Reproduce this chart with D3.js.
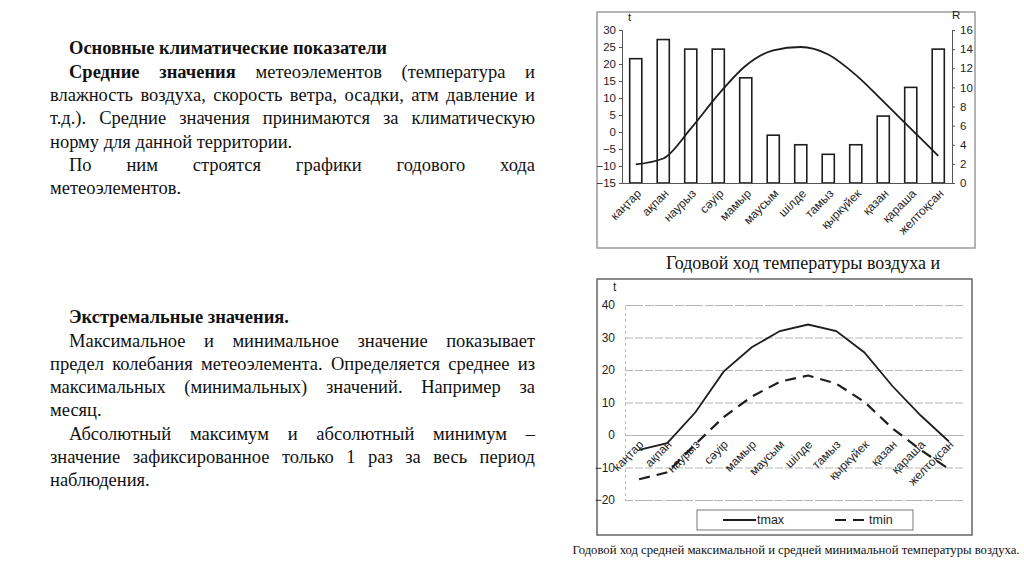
<!DOCTYPE html>
<html>
<head>
<meta charset="utf-8">
<script src="https://cdn.jsdelivr.net/npm/d3@7"></script>
<style>
  body { margin: 0; background: #fff; }
  svg { display: block; }
</style>
</head>
<body>
<div id="wrapper"></div>
<script>
// months (kazakh)
const months = ["каңтар", "ақпан", "наурыз", "сәуір", "мамыр", "маусым",
    "шілде", "тамыз", "қыркүйек", "қазан", "қараша", "желтоқсан"];

// chart 1: precipitation bars (R) and temperature line (t)
const precip = [13, 15, 14, 14, 11, 5, 4, 3, 4, 7, 10, 14];
const temp = [-9.5, -7.8, 1, 11, 19.5, 24, 25, 22.8, 16.8, 9, 1, -7];
const tTicks = [-15, -10, -5, 0, 5, 10, 15, 20, 25, 30];
const rTicks = [0, 2, 4, 6, 8, 10, 12, 14, 16];

// chart 2: mean max / mean min temperature
const tmax = [-4.6, -2.5, 7, 19.5, 27, 32, 34, 32, 25.4, 15, 6, -2];
const tmin = [-13.6, -11.5, -2.8, 5.5, 11.8, 16.4, 18.3, 15.8, 10.2, 2, -4.6, -10.5];
const t2Ticks = [-20, -10, 0, 10, 20, 30, 40];

const width = 1024, height = 576;
const ink = "#1e1e1e";

const svg = d3.select("#wrapper").append("svg")
    .attr("width", width)
    .attr("height", height);

// ---------- left text ----------
const textLines = [
    {text: "Основные климатические показатели", x: 69, y: 54, bold: 3, justify: false},
    {text: "Средние значения метеоэлементов (температура и", x: 69, y: 78, bold: 2, justify: true},
    {text: "влажность воздуха, скорость ветра, осадки, атм давление и", x: 50, y: 101, bold: 0, justify: true},
    {text: "т.д.). Средние значения принимаются за климатическую", x: 50, y: 124, bold: 0, justify: true},
    {text: "норму для данной территории.", x: 50, y: 148, bold: 0, justify: false},
    {text: "По ним строятся графики годового хода", x: 69, y: 171, bold: 0, justify: true},
    {text: "метеоэлементов.", x: 50, y: 194, bold: 0, justify: false},
    {text: "Экстремальные значения.", x: 69, y: 323, bold: 2, justify: false},
    {text: "Максимальное и минимальное значение показывает", x: 69, y: 347, bold: 0, justify: true},
    {text: "предел колебания метеоэлемента. Определяется среднее из", x: 50, y: 370, bold: 0, justify: true},
    {text: "максимальных (минимальных) значений. Например за", x: 50, y: 393, bold: 0, justify: true},
    {text: "месяц.", x: 50, y: 416, bold: 0, justify: false},
    {text: "Абсолютный максимум и абсолютный минимум –", x: 69, y: 440, bold: 0, justify: true},
    {text: "значение зафиксированное только 1 раз за весь период", x: 50, y: 463, bold: 0, justify: true},
    {text: "наблюдения.", x: 50, y: 486, bold: 0, justify: false},
];
const textRight = 535;

const textG = svg.append("g")
    .attr("font-family", "'Liberation Serif', 'Times New Roman', serif")
    .attr("font-size", "18.5px")
    .attr("fill", "#111");

textLines.forEach(line => {
    const words = line.text.split(" ");
    const nodes = words.map((w, i) => textG.append("text")
        .attr("y", line.y)
        .attr("font-weight", i < line.bold ? "bold" : "normal")
        .text(w));
    const widths = nodes.map(n => n.node().getComputedTextLength());
    const space = textG.append("text").text("\u00a0");
    let gap = space.node().getComputedTextLength();
    space.remove();
    if (line.justify && words.length > 1) {
        gap = (textRight - line.x - d3.sum(widths)) / (words.length - 1);
    }
    let x = line.x;
    nodes.forEach((n, i) => {
        n.attr("x", x);
        x += widths[i] + gap;
    });
});

// ---------- chart 1 ----------
const c1 = svg.append("g").attr("font-family", "'Liberation Sans', Arial, sans-serif");

c1.append("rect")
    .attr("x", 597).attr("y", 12)
    .attr("width", 378).attr("height", 236)
    .attr("fill", "none").attr("stroke", "#9a9a9a").attr("stroke-width", 1.5);

const x1 = d3.scaleBand().domain(months).range([622, 952]);
const yT = d3.scaleLinear().domain([-15, 30]).range([183, 30]);
const yR = d3.scaleLinear().domain([0, 16]).range([183, 30]);

const barW = x1.bandwidth() * 0.44;
c1.append("g").selectAll("rect")
    .data(months)
    .join("rect")
    .attr("x", d => x1(d) + (x1.bandwidth() - barW) / 2)
    .attr("y", (d, i) => yR(precip[i]))
    .attr("width", barW)
    .attr("height", (d, i) => yR(0) - yR(precip[i]))
    .attr("fill", "#fff")
    .attr("stroke", ink)
    .attr("stroke-width", 1.6);

const line1 = d3.line()
    .x((d, i) => x1(months[i]) + x1.bandwidth() / 2)
    .y(d => yT(d))
    .curve(d3.curveMonotoneX);

c1.append("path")
    .datum(temp)
    .attr("d", line1)
    .attr("fill", "none")
    .attr("stroke", ink)
    .attr("stroke-width", 1.8);

const yTAxis = c1.append("g")
    .attr("transform", "translate(622,0)")
    .call(d3.axisLeft(yT).tickValues(tTicks).tickSize(3).tickPadding(3));
const yRAxis = c1.append("g")
    .attr("transform", "translate(952,0)")
    .call(d3.axisRight(yR).tickValues(rTicks).tickSize(3).tickPadding(5));
const x1Axis = c1.append("g")
    .attr("transform", "translate(0,183)")
    .call(d3.axisBottom(x1).tickSize(0).tickPadding(8));

[yTAxis, yRAxis, x1Axis].forEach(a => {
    a.selectAll("path, line").attr("stroke", "#555");
    a.selectAll("text").attr("font-size", "11.5px").attr("fill", ink);
});
x1Axis.selectAll("text")
    .attr("text-anchor", "end")
    .attr("dy", "0.3em")
    .attr("transform", "translate(-2,3) rotate(-45)")
    .attr("font-size", "12px");

c1.append("text").attr("x", 628).attr("y", 21).attr("font-size", "11.5px").attr("fill", ink).text("t");
c1.append("text").attr("x", 952).attr("y", 19).attr("font-size", "11.5px").attr("fill", ink).text("R");

// caption 1
svg.append("text")
    .attr("x", 803).attr("y", 269)
    .attr("text-anchor", "middle")
    .attr("font-family", "'Liberation Serif', 'Times New Roman', serif")
    .attr("font-size", "18px")
    .attr("fill", "#111")
    .text("Годовой ход температуры воздуха и");

// ---------- chart 2 ----------
const c2 = svg.append("g").attr("font-family", "'Liberation Sans', Arial, sans-serif");

c2.append("rect")
    .attr("x", 597).attr("y", 279)
    .attr("width", 375).attr("height", 256)
    .attr("fill", "none").attr("stroke", "#666").attr("stroke-width", 1.5);

const x2 = d3.scaleBand().domain(months).range([625, 963]);
const y2 = d3.scaleLinear().domain([-20, 40]).range([500, 305]);

const y2Axis = c2.append("g")
    .attr("transform", "translate(625,0)")
    .call(d3.axisLeft(y2).tickValues(t2Ticks).tickSize(-(963 - 625)).tickPadding(10));
y2Axis.select(".domain").attr("stroke", "#bbb").attr("stroke-dasharray", "3 3");
y2Axis.selectAll("line").attr("stroke", "#b5b5b5").attr("stroke-dasharray", "8 2");
y2Axis.selectAll("text").attr("font-size", "12px").attr("fill", ink);

const x2Axis = c2.append("g")
    .attr("transform", `translate(0,${y2(0)})`)
    .call(d3.axisBottom(x2).tickSize(0).tickPadding(8));
x2Axis.select(".domain").attr("stroke", "#b5b5b5");
x2Axis.selectAll("text")
    .attr("text-anchor", "end")
    .attr("dy", "0.3em")
    .attr("transform", "translate(-3,2) rotate(-45)")
    .attr("font-size", "12px")
    .attr("fill", ink);

const line2 = d3.line()
    .x((d, i) => x2(months[i]) + x2.bandwidth() / 2)
    .y(d => y2(d));

c2.append("path")
    .datum(tmax)
    .attr("d", line2)
    .attr("fill", "none")
    .attr("stroke", ink)
    .attr("stroke-width", 1.8);

c2.append("path")
    .datum(tmin)
    .attr("d", line2)
    .attr("fill", "none")
    .attr("stroke", ink)
    .attr("stroke-width", 2.2)
    .attr("stroke-dasharray", "11 7");

c2.append("text").attr("x", 613).attr("y", 291).attr("font-size", "12px").attr("fill", ink).text("t");

// legend
const leg = c2.append("g");
leg.append("rect")
    .attr("x", 697).attr("y", 510)
    .attr("width", 216).attr("height", 20)
    .attr("fill", "#fff").attr("stroke", "#777");
leg.append("line")
    .attr("x1", 723).attr("x2", 756).attr("y1", 520).attr("y2", 520)
    .attr("stroke", ink).attr("stroke-width", 1.8);
leg.append("text").attr("x", 757).attr("y", 524).attr("font-size", "12.5px").attr("fill", ink).text("tmax");
leg.append("line")
    .attr("x1", 835).attr("x2", 868).attr("y1", 520).attr("y2", 520)
    .attr("stroke", ink).attr("stroke-width", 2.2).attr("stroke-dasharray", "11 7");
leg.append("text").attr("x", 869).attr("y", 524).attr("font-size", "12.5px").attr("fill", ink).text("tmin");

// caption 2
svg.append("text")
    .attr("x", 796).attr("y", 554)
    .attr("text-anchor", "middle")
    .attr("font-family", "'Liberation Serif', 'Times New Roman', serif")
    .attr("font-size", "12.7px")
    .attr("fill", "#111")
    .text("Годовой ход средней максимальной и средней минимальной температуры воздуха.");
</script>
</body>
</html>
